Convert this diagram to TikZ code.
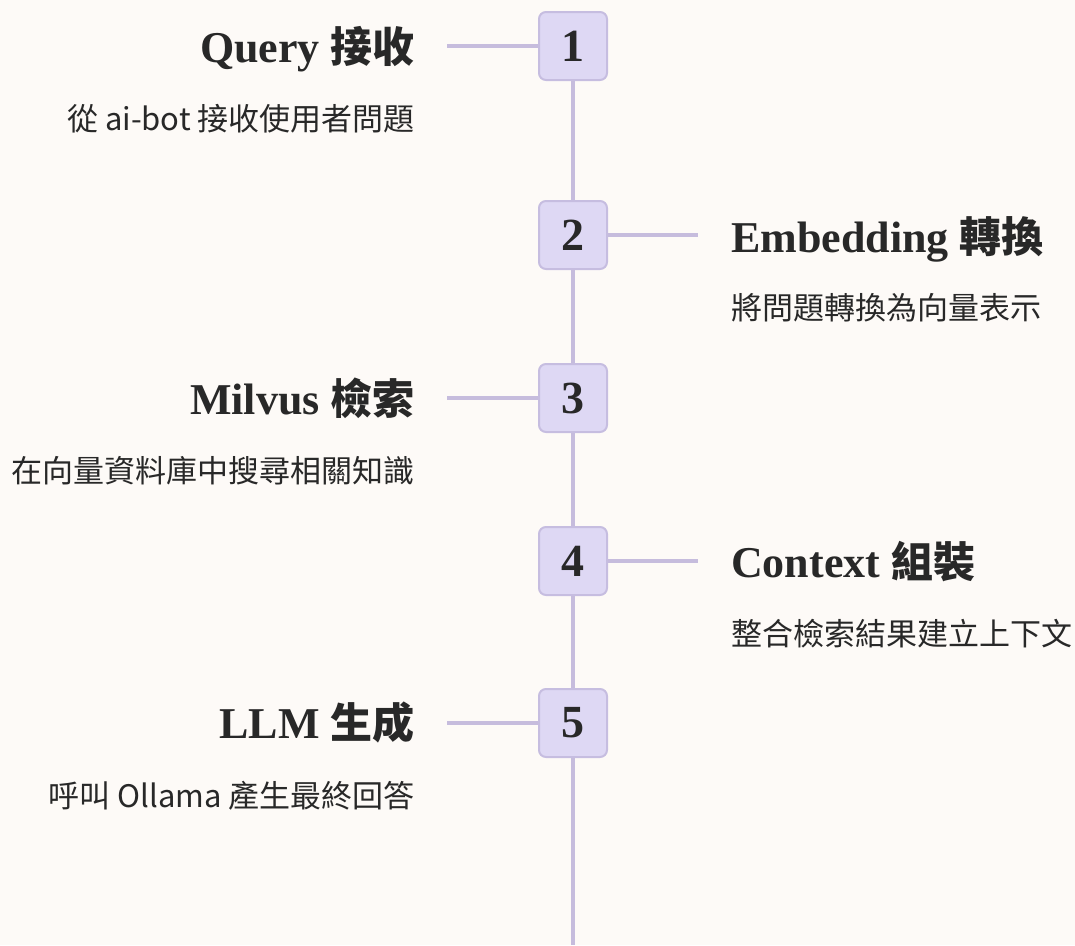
\documentclass[tikz,border=0pt]{standalone}
\usepackage{fontspec}
\setmainfont{Liberation Serif}
\newfontfamily\cjk{Noto Sans CJK TC}
\definecolor{bg}{HTML}{FDFAF7}
\definecolor{boxfill}{HTML}{DED8F4}
\definecolor{boxline}{HTML}{C6BDE0}
\definecolor{conncol}{HTML}{C6BCDD}
\definecolor{ink}{HTML}{282828}
\newcommand{\cjkt}[1]{{\fontsize{42}{44}\selectfont\cjk\bfseries #1}}
\tikzset{
  stepbox/.style={draw=boxline, fill=boxfill, line width=2pt, rounded corners=7pt,
    minimum width=68pt, minimum height=68pt, inner sep=0pt, text=ink,
    font=\fontsize{46}{46}\selectfont\bfseries},
  conn/.style={draw=conncol, line width=3.5pt},
  ttl/.style={inner sep=0pt, text=ink, font=\fontsize{44}{46}\selectfont\bfseries},
  sub/.style={inner sep=0pt, text=ink, font=\fontsize{31}{32}\selectfont\cjk},
}
\begin{document}
\begin{tikzpicture}[x=1pt,y=-1pt]
\fill[bg] (0,0) rectangle (1075,945);
\useasboundingbox (0,0) rectangle (1075,945);
% vertical spine
\coordinate (bottom) at (573,945);
\node[stepbox] (b1) at (573,46) {1};
\node[stepbox] (b2) at (573,235) {2};
\node[stepbox] (b3) at (573,398) {3};
\node[stepbox] (b4) at (573,561) {4};
\node[stepbox] (b5) at (573,723) {5};
\draw[conn] (b1.south) -- (b2.north);
\draw[conn] (b2.south) -- (b3.north);
\draw[conn] (b3.south) -- (b4.north);
\draw[conn] (b4.south) -- (b5.north);
\draw[conn] (b5.south) -- (bottom);
% side connectors
\coordinate (c1) at (447,46);
\coordinate (c2) at (698,235);
\coordinate (c3) at (447,398);
\coordinate (c4) at (698,561);
\coordinate (c5) at (447,723);
\draw[conn] (c1) -- (b1.west);
\draw[conn] (b2.east) -- (c2);
\draw[conn] (c3) -- (b3.west);
\draw[conn] (b4.east) -- (c4);
\draw[conn] (c5) -- (b5.west);
% texts
\node[ttl, anchor=base east] (t1) at (415,62) {Query \cjkt{接收}};
\node[sub, anchor=base east] (s1) at (415,130) {從 ai-bot 接收使用者問題};
\node[ttl, anchor=base west] (t2) at (731,252) {Embedding \cjkt{轉換}};
\node[sub, anchor=base west] (s2) at (731,319) {將問題轉換為向量表示};
\node[ttl, anchor=base east] (t3) at (415,414) {Milvus \cjkt{檢索}};
\node[sub, anchor=base east] (s3) at (415,482) {在向量資料庫中搜尋相關知識};
\node[ttl, anchor=base west] (t4) at (731,577) {Context \cjkt{組裝}};
\node[sub, anchor=base west] (s4) at (731,645) {整合檢索結果建立上下文};
\node[ttl, anchor=base east] (t5) at (415,738) {LLM \cjkt{生成}};
\node[sub, anchor=base east] (s5) at (415,807) {呼叫 Ollama 產生最終回答};
\end{tikzpicture}
\end{document}
